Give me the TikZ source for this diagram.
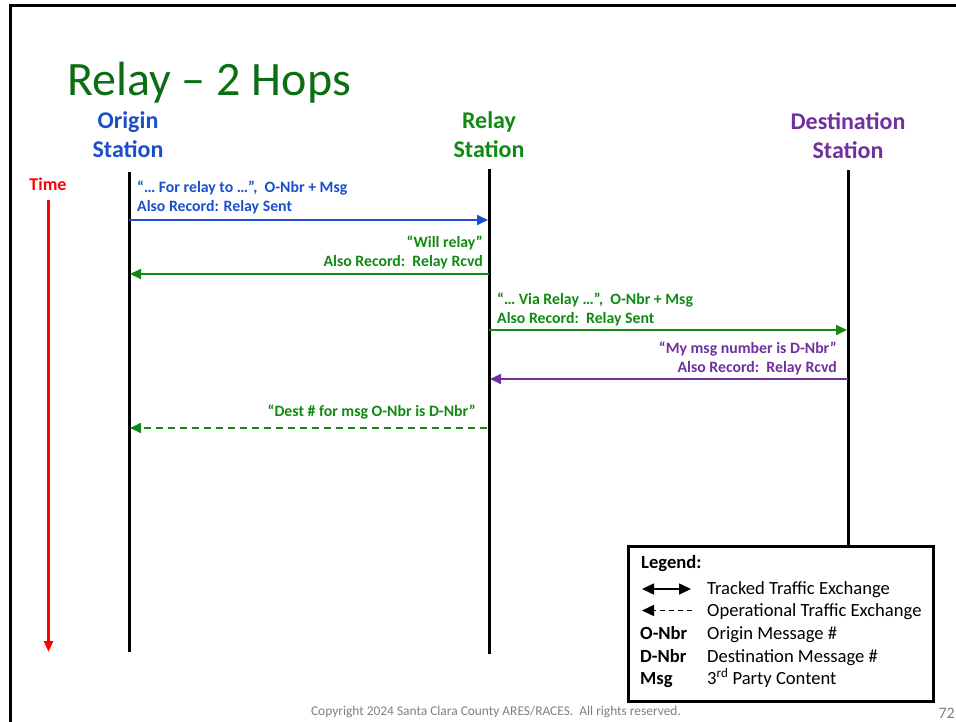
\documentclass[tikz,border=0pt]{standalone}
\usepackage{fontspec}
\setmainfont{Carlito}
\usetikzlibrary{arrows.meta}
\definecolor{cblue}{HTML}{1A4FCC}
\definecolor{cgreen}{HTML}{108A12}
\definecolor{tgreen}{HTML}{0B6E12}
\definecolor{cpurple}{HTML}{7030A0}
\definecolor{cred}{HTML}{FF0000}
\definecolor{cgray}{HTML}{7F7F7F}
\tikzset{
  lifeline/.style={line width=3pt, black},
  msg/.style={line width=1.8pt, -{Triangle[length=11pt,width=10pt]}},
  opmsg/.style={line width=1.8pt, dash pattern=on 7pt off 5pt, -{Triangle[length=11pt,width=10pt]}},
  station/.style={font=\fontsize{24}{29}\selectfont\bfseries, align=center, inner sep=0pt},
  mtext/.style={font=\fontsize{15.8}{19}\selectfont\bfseries, inner sep=0pt},
  legtext/.style={font=\fontsize{18.6}{20}\selectfont, inner sep=0pt, anchor=base west},
  legbold/.style={font=\fontsize{18.6}{20}\selectfont\bfseries, inner sep=0pt, anchor=base west},
}
\begin{document}
\begin{tikzpicture}[x=1pt,y=-1pt]
\useasboundingbox (0,0) rectangle (956,721);
% slide frame
\draw[line width=2.5pt] (10.5,730) -- (10.5,5.5) -- (970,5.5);
% title
\node[anchor=base west, inner sep=0pt, text=tgreen, font=\fontsize{48}{52}\selectfont] (title) at (67,95) {Relay -- 2 Hops};
% station headers
\node[station, text=cblue, anchor=base] (org) at (128,157) {Origin\\Station};
\node[station, text=cgreen, anchor=base] (rel) at (489,157) {Relay\\Station};
\node[station, text=cpurple, anchor=base] (dst) at (848,158) {Destination\\Station};
% lifelines
\coordinate (oT) at (129,172); \coordinate (oB) at (129,652);
\coordinate (rT) at (489,169); \coordinate (rB) at (489,654);
\coordinate (dT) at (848,170); \coordinate (dB) at (848,546);
\draw[lifeline] (oT) -- (oB);
\draw[lifeline] (rT) -- (rB);
\draw[lifeline] (dT) -- (dB);
% time
\node[anchor=base, inner sep=0pt, text=cred, font=\fontsize{18}{20}\selectfont\bfseries] (time) at (48,190) {Time};
\coordinate (tT) at (48.5,200); \coordinate (tB) at (48.5,652);
\draw[line width=2.5pt, cred, -{Triangle[length=11pt,width=9pt]}] (tT) -- (tB);
% message 1
\node[mtext, text=cblue, anchor=base west] (m1a) at (137,192) {“… For relay to …”,\ \ O-Nbr + Msg};
\node[mtext, text=cblue, anchor=base west] (m1b) at (137,211) {Also Record: Relay Sent};
\draw[msg, cblue] (129,220) coordinate (m1s) -- (488,220) coordinate (m1e);
% message 2
\node[mtext, text=cgreen, anchor=base east] (m2a) at (483,247) {“Will relay”};
\node[mtext, text=cgreen, anchor=base east] (m2b) at (483,266) {Also Record:\ \ Relay Rcvd};
\draw[msg, cgreen] (489,274) coordinate (m2s) -- (130,274) coordinate (m2e);
% message 3
\node[mtext, text=cgreen, anchor=base west] (m3a) at (497,304) {“… Via Relay …”,\ \ O-Nbr + Msg};
\node[mtext, text=cgreen, anchor=base west] (m3b) at (497,323) {Also Record:\ \ Relay Sent};
\draw[msg, cgreen] (489,330) coordinate (m3s) -- (847,330) coordinate (m3e);
% message 4
\node[mtext, text=cpurple, anchor=base east] (m4a) at (837,353) {“My msg number is D-Nbr”};
\node[mtext, text=cpurple, anchor=base east] (m4b) at (837,372) {Also Record:\ \ Relay Rcvd};
\draw[msg, cpurple] (848,379) coordinate (m4s) -- (490,379) coordinate (m4e);
% message 5
\node[mtext, text=cgreen, anchor=base east] (m5a) at (476,416) {“Dest \# for msg O-Nbr is D-Nbr”};
\draw[opmsg, cgreen] (487,428) coordinate (m5s) -- (130,428) coordinate (m5e);
% legend
\node[draw, line width=2.5pt, fill=white, minimum width=305pt, minimum height=155pt, inner sep=0pt, anchor=north west] (leg) at (627,545) {};
\node[legbold] (lgt) at (641,568) {Legend:};
\coordinate (la1) at (642,589); \coordinate (la2) at (691,589);
\draw[line width=1.5pt, {Triangle[length=12pt,width=11pt]}-{Triangle[length=12pt,width=11pt]}] (la1) -- (la2);
\node[legtext] (l1) at (707,594) {Tracked Traffic Exchange};
\coordinate (lb1) at (692,610.5); \coordinate (lb2) at (642,610.5);
\draw[line width=1.5pt, dash pattern=on 5pt off 4pt, -{Triangle[length=12pt,width=11pt]}] (lb1) -- (lb2);
\node[legtext] (l2) at (707,616) {Operational Traffic Exchange};
\node[legbold] (k3) at (640,639) {O-Nbr};
\node[legtext] (l3) at (707,639) {Origin Message \#};
\node[legbold] (k4) at (640,662) {D-Nbr};
\node[legtext] (l4) at (707,662) {Destination Message \#};
\node[legbold] (k5) at (640,684) {Msg};
\node[legtext] (l5) at (707,684) {3\textsuperscript{rd} Party Content};
% footer
\node[anchor=base, inner sep=0pt, text=cgray, font=\fontsize{13.4}{15}\selectfont] (copy) at (496,715) {Copyright 2024 Santa Clara County ARES/RACES.\ \ All rights reserved.};
\node[anchor=base east, inner sep=0pt, text=cgray, font=\fontsize{16}{18}\selectfont] (pg) at (955,718) {72};
\end{tikzpicture}
\end{document}
